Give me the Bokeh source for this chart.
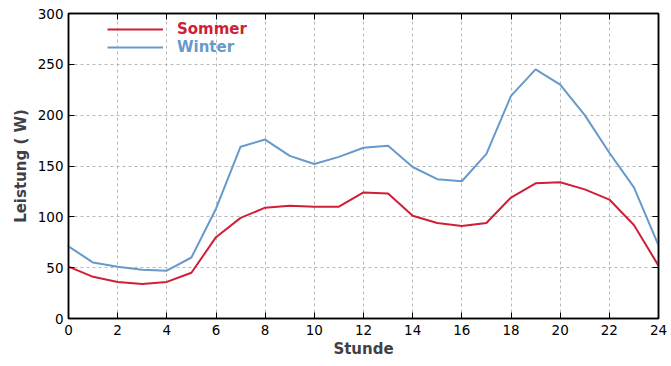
from bokeh.plotting import figure
from bokeh.models import Range1d, LinearAxis, Legend, LegendItem, FixedTicker
from bokeh.embed import file_html
from bokeh.resources import INLINE

stunde = list(range(25))
sommer = [51, 41, 36, 34, 36, 45, 80, 99, 109, 111, 110, 110, 124, 123,
          101, 94, 91, 94, 119, 133, 134, 127, 117, 92, 52]
winter = [71, 55, 51, 48, 47, 60, 108, 169, 176, 160, 152, 159, 168, 170,
          149, 137, 135, 162, 219, 245, 230, 200, 163, 129, 72]
x_ticks = list(range(0, 25, 2))
y_ticks = list(range(0, 301, 50))

RED = "#cf1f38"
BLUE = "#6699cc"
FONT = "DejaVu Sans"

p = figure(width=671, height=366, output_backend="svg", toolbar_location=None,
           x_range=Range1d(0, 24), y_range=Range1d(0, 300),
           min_border_left=68, min_border_right=13, min_border_top=13,
           min_border_bottom=48)
p.outline_line_color = "black"
p.outline_line_width = 1.5

r_s = p.line(stunde, sommer, line_color=RED, line_width=2)
r_w = p.line(stunde, winter, line_color=BLUE, line_width=2)

for ax in (p.xaxis[0], p.yaxis[0]):
    ax.major_tick_in = 6
    ax.major_tick_out = 0
    ax.minor_tick_line_color = None
    ax.axis_line_color = "black"
    ax.axis_line_width = 1.5
    ax.major_tick_line_color = "black"
    ax.major_label_text_font = FONT
    ax.major_label_text_font_size = "13.5px"
    ax.major_label_text_color = "black"
    ax.axis_label_text_font = FONT
    ax.axis_label_text_font_style = "bold"
    ax.axis_label_text_font_size = "15px"
    ax.axis_label_text_color = "#404048"

p.xaxis[0].ticker = FixedTicker(ticks=x_ticks)
p.yaxis[0].ticker = FixedTicker(ticks=y_ticks)
p.xaxis[0].axis_label = "Stunde"
p.yaxis[0].axis_label = "Leistung ( W)"
p.xaxis[0].major_label_standoff = 6
p.xaxis[0].axis_label_standoff = 2
p.yaxis[0].major_label_standoff = 5
p.yaxis[0].axis_label_standoff = 5

top = LinearAxis(ticker=FixedTicker(ticks=x_ticks), major_tick_in=6, major_tick_out=0,
                 minor_tick_line_color=None, major_label_text_font_size="0px",
                 major_label_text_color=None,
                 major_label_standoff=0, axis_line_width=1.5)
right = LinearAxis(ticker=FixedTicker(ticks=y_ticks), major_tick_in=6, major_tick_out=0,
                   minor_tick_line_color=None, major_label_text_font_size="0px",
                   major_label_text_color=None,
                   major_label_standoff=0, axis_line_width=1.5)
p.add_layout(top, "above")
p.add_layout(right, "right")

p.xgrid.ticker = FixedTicker(ticks=x_ticks)
p.ygrid.ticker = FixedTicker(ticks=y_ticks)
for g in (p.xgrid[0], p.ygrid[0]):
    g.grid_line_color = "#b8b8b8"
    g.grid_line_dash = "3 3"
    g.grid_line_width = 1

for label, rend, col, ybot in (("Sommer", r_s, RED, 280), ("Winter", r_w, BLUE, 262)):
    lg = Legend(items=[LegendItem(label=label, renderers=[rend])],
                location=(39, ybot),
                background_fill_alpha=0, border_line_color=None,
                label_text_color=col, label_text_font=FONT,
                label_text_font_style="bold", label_text_font_size="15px",
                glyph_width=56, glyph_height=14, label_standoff=14,
                padding=0, margin=0, spacing=0, label_height=14)
    p.add_layout(lg, "center")

open("out.html", "w").write(file_html(p, INLINE))
